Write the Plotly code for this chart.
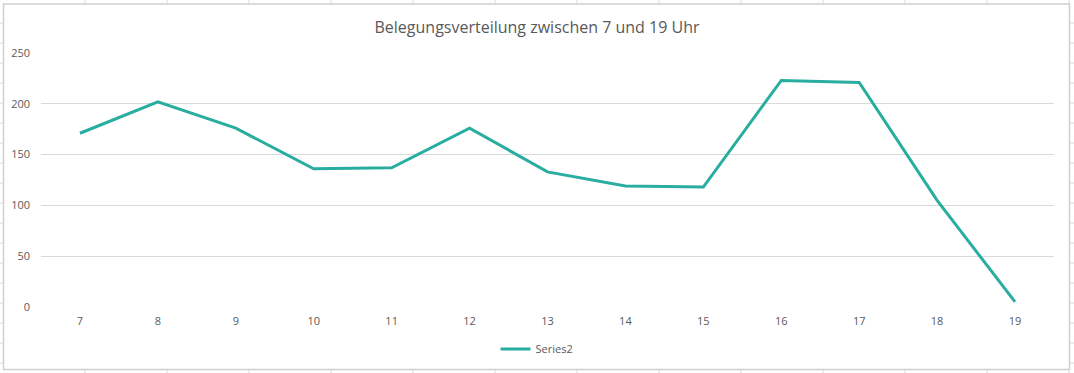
import plotly.graph_objects as go

hours = [7, 8, 9, 10, 11, 12, 13, 14, 15, 16, 17, 18, 19]
values = [171, 202, 176, 136, 137, 176, 133, 119, 118, 223, 221, 105, 5]
series_name = "Series2"
title_text = "Belegungsverteilung zwischen 7 und 19 Uhr"
y_ticks = [0, 50, 100, 150, 200, 250]

W, H = 1074, 373
L, R, T, B = 41, 1054, 53, 307  # plot area in pixels


def xp(px):
    return (px - L) / (R - L)


def yp(py):
    return (B - py) / (B - T)


shapes = []
grid_col = "#d9d9d9"
# spreadsheet cell grid behind the chart
x = 85
while x < W:
    shapes.append(dict(type="line", xref="paper", yref="paper", x0=xp(x), x1=xp(x),
                       y0=yp(0), y1=yp(H), line=dict(color=grid_col, width=1), layer="below"))
    x += 82
y = 23
while y < H:
    shapes.append(dict(type="line", xref="paper", yref="paper", x0=xp(0), x1=xp(W),
                       y0=yp(y), y1=yp(y), line=dict(color=grid_col, width=1), layer="below"))
    y += 20
# chart area
shapes.append(dict(type="rect", xref="paper", yref="paper", x0=xp(3.5), x1=xp(1069.5),
                   y0=yp(369.5), y1=yp(4), fillcolor="white",
                   line=dict(color="#d0d0d0", width=1.5), layer="below"))

fig = go.Figure()
fig.add_trace(go.Scatter(x=hours, y=values, mode="lines", name=series_name,
                         line=dict(color="#29ADA0", width=3)))

fig.update_layout(
    width=W, height=H,
    margin=dict(l=L, r=W - R, t=T, b=H - B, autoexpand=False),
    paper_bgcolor="white",
    plot_bgcolor="rgba(0,0,0,0)",
    font=dict(family="Open Sans", color="#595959", size=11),
    title=dict(text=title_text, x=xp(537), xanchor="center", xref="paper",
               y=1 - 27 / H, yanchor="middle",
               font=dict(family="Open Sans", size=16, color="#595959")),
    showlegend=True,
    legend=dict(orientation="h", x=xp(537), xanchor="center", y=yp(349), yanchor="middle",
                font=dict(size=11, color="#595959"), bgcolor="rgba(0,0,0,0)"),
    xaxis=dict(range=[6.5, 19.5], tickvals=hours, showgrid=False, zeroline=False,
               showline=False, ticks="", tickfont=dict(size=11, color="#595959"),
               ticklabelstandoff=6, automargin=False),
    yaxis=dict(range=[0, 250], tickvals=y_ticks, showgrid=True, gridcolor="#d9d9d9",
               gridwidth=1, zeroline=False, showline=False, ticks="",
               tickfont=dict(size=11, color="#595959"), ticklabelstandoff=10,
               automargin=False),
    shapes=shapes,
)

fig.write_html("out.html")
